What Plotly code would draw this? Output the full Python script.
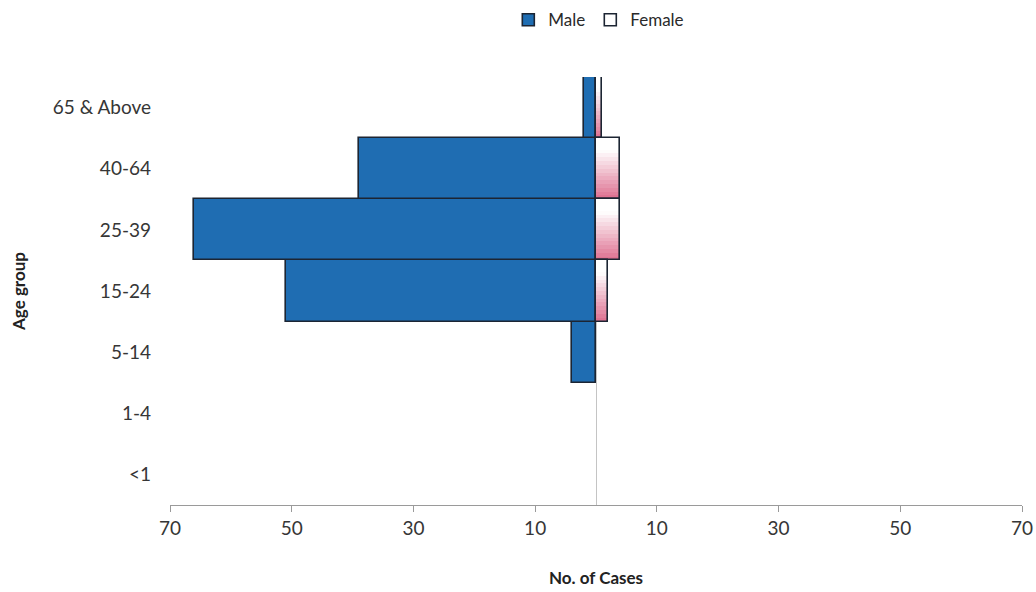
import plotly.graph_objects as go

# Age groups, bottom to top
age_groups = ["<1", "1-4", "5-14", "15-24", "25-39", "40-64", "65 & Above"]
male_cases = [0, 0, 4, 51, 66, 39, 2]
female_cases = [0, 0, 0, 2, 4, 4, 1]

tick_vals = [-70, -50, -30, -10, 10, 30, 50, 70]
tick_text = [str(abs(v)) for v in tick_vals]

FONT = "Lato"
TEXT = "#363636"
EDGE = "#1c2533"
MALE_BLUE = "#1f6db2"


def blend(c1, c2, t):
    a = [int(c1[i:i + 2], 16) for i in (1, 3, 5)]
    b = [int(c2[i:i + 2], 16) for i in (1, 3, 5)]
    return "#" + "".join(f"{round(x + (y - x) * t):02x}" for x, y in zip(a, b))


fig = go.Figure()

# Male bars extend to the left of zero
fig.add_trace(go.Bar(
    y=age_groups,
    x=[-v if v else None for v in male_cases],
    orientation="h",
    name="Male",
    marker=dict(color=MALE_BLUE, line=dict(color=EDGE, width=1.6)),
    width=1,
    hoverinfo="skip",
))

# Female bars: white-to-pink vertical shading built from thin strips
n_strips = 16
for k in range(n_strips):
    t = (k + 0.5) / n_strips  # 0 at bottom, 1 at top
    shade = blend("#dd6d8e", "#ffffff", min(1.0, t * 1.25))
    fig.add_trace(go.Bar(
        y=age_groups,
        x=female_cases,
        orientation="h",
        width=1 / n_strips,
        offset=-0.5 + k / n_strips,
        marker=dict(color=shade, line=dict(width=0)),
        showlegend=False,
        hoverinfo="skip",
    ))

# Female outlines (also provides the legend entry)
fig.add_trace(go.Bar(
    y=age_groups,
    x=[v if v else None for v in female_cases],
    orientation="h",
    name="Female",
    marker=dict(color="rgba(255,255,255,0)", line=dict(color=EDGE, width=1.6)),
    width=1,
    hoverinfo="skip",
))

fig.update_layout(
    width=1036,
    height=592,
    paper_bgcolor="white",
    plot_bgcolor="white",
    barmode="overlay",
    bargap=0,
    margin=dict(l=170, r=14, t=77, b=87, autoexpand=False),
    font=dict(family=FONT, color=TEXT, size=19),
    showlegend=True,
    legend=dict(
        orientation="h",
        xref="container", yref="container",
        x=0.578, y=0.966, xanchor="center", yanchor="middle",
        font=dict(size=17, color="#2a2a2a"),
        itemwidth=30,
        traceorder="normal",
    ),
    xaxis=dict(
        range=[-70, 70],
        automargin=False,
        tickvals=tick_vals,
        ticktext=tick_text,
        showgrid=False,
        zeroline=True,
        zerolinecolor="#c4c4c4",
        zerolinewidth=1,
        showline=True,
        linecolor="#9a9a9a",
        linewidth=1,
        ticks="outside",
        ticklen=6,
        tickcolor="#9a9a9a",
        tickfont=dict(size=19, color=TEXT),
        title=dict(text="<b>No. of Cases</b>", font=dict(size=17, color="#222"), standoff=34),
        fixedrange=True,
    ),
    yaxis=dict(
        categoryorder="array",
        categoryarray=age_groups,
        automargin=False,
        showgrid=False,
        showline=False,
        ticks="",
        ticklabelstandoff=18,
        tickfont=dict(size=19, color=TEXT),
        title=dict(text="<b>Age group</b>", font=dict(size=17, color="#222"), standoff=22),
        fixedrange=True,
    ),
)

fig.write_html("out.html")
